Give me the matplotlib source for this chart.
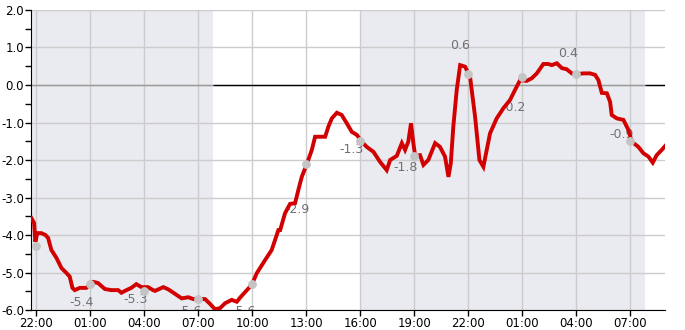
import matplotlib
matplotlib.use("Agg")
import matplotlib.pyplot as plt

# hours since 22:00 on the first evening
hours = [-0.26, -0.11, -0.04, 0.07, 0.29, 0.52, 0.67, 0.85, 1.13, 1.41, 1.68, 1.87,
         2.02, 2.15, 2.43, 2.79, 3.17, 3.44, 3.82, 4.18, 4.56, 4.74, 5.02, 5.29,
         5.57, 5.85, 6.22, 6.5, 6.61, 7.07, 7.35, 7.63, 8.09, 8.46, 8.74, 9.0,
         9.39, 9.67, 9.94, 10.22, 10.5, 10.87, 11.15, 11.37, 11.71, 11.98, 12.26,
         12.72, 13.09, 13.28, 13.46, 13.56, 13.83, 14.11, 14.39, 14.57, 14.76,
         15.04, 15.32, 15.5, 15.68, 16.06, 16.24, 16.43, 16.71, 16.98, 17.26,
         17.54, 17.82, 18.09, 18.37, 18.74, 19.11, 19.48, 19.67, 20.04, 20.32,
         20.5, 20.68, 20.83, 20.96, 21.06, 21.33, 21.52, 21.79, 22.17, 22.44,
         22.72, 22.91, 23.04, 23.18, 23.37, 23.56, 23.83, 24.11, 24.39, 24.63,
         24.85, 25.04, 25.22, 25.59, 25.96, 26.33, 26.61, 26.89, 27.26, 27.54,
         27.82, 28.18, 28.46, 28.65, 28.93, 29.21, 29.48, 29.76, 30.04, 30.41,
         30.78, 31.06, 31.24, 31.43, 31.71, 31.89, 31.98, 32.26, 32.63, 32.91,
         33.09, 33.46, 33.74, 34.02, 34.26, 34.48, 34.76, 34.94]
temps = [-3.55, -3.68, -4.18, -3.95, -3.95, -4.0, -4.08, -4.4, -4.61, -4.88, -5.01, -5.11,
         -5.41, -5.47, -5.41, -5.41, -5.25, -5.28, -5.44, -5.47, -5.47, -5.54, -5.47, -5.41,
         -5.31, -5.39, -5.39, -5.47, -5.49, -5.39, -5.45, -5.54, -5.69, -5.66, -5.71, -5.7,
         -5.71, -5.84, -5.98, -5.95, -5.82, -5.73, -5.78, -5.65, -5.47, -5.33, -5.02,
         -4.67, -4.4, -4.13, -3.87, -3.87, -3.42, -3.17, -3.15, -2.8, -2.45,
         -2.11, -1.73, -1.38, -1.38, -1.38, -1.11, -0.89, -0.74, -0.8, -1.02,
         -1.25, -1.33, -1.51, -1.65, -1.78, -2.05, -2.27, -2.0, -1.89, -1.55,
         -1.73, -1.51, -1.02, -1.55, -1.89, -1.87, -2.13, -2.0, -1.55, -1.65,
         -1.91, -2.45, -2.09, -1.11, -0.13, 0.53, 0.49, 0.22, -0.85, -2.0,
         -2.18, -1.73, -1.29, -0.89, -0.62, -0.4, -0.13, 0.13, 0.11, 0.18,
         0.31, 0.56, 0.56, 0.53, 0.58, 0.45, 0.42, 0.31, 0.29, 0.31,
         0.31, 0.27, 0.13, -0.21, -0.22, -0.45, -0.8, -0.89, -0.93, -1.2,
         -1.51, -1.65, -1.82, -1.91, -2.07, -1.87, -1.73, -1.63]

# grey 3-hourly markers and their printed values
mark_hours = [0, 3, 6, 9, 12, 15, 18, 21, 24, 27, 30, 33]
mark_temps = [-4.29, -5.31, -5.49, -5.71, -5.31, -2.11, -1.49, -1.89, 0.29, 0.21, 0.29, -1.49]
mark_text = ["", "-5.4", "-5.3", "-5.6", "-5.6", "-2.9", "-1.3", "-1.8", "0.6", "-0.2", "0.4", "-0.9"]
text_temps = [-4.6, -5.79, -5.71, -6.04, -6.04, -3.31, -1.71, -2.19, 1.04, -0.59, 0.83, -1.31]

tick_hours = [0, 3, 6, 9, 12, 15, 18, 21, 24, 27, 30, 33]
tick_labels = ["22:00", "01:00", "04:00", "07:00", "10:00", "13:00",
               "16:00", "19:00", "22:00", "01:00", "04:00", "07:00"]

# night shading (hours)
nights = [(-0.28, 9.83), (18.0, 33.83)]

X0, X1 = -0.28, 34.94

fig = plt.figure(figsize=(6.85, 3.3), dpi=100)
ax = fig.add_axes([0.0453, 0.0606, 0.9255, 0.9091])

for a, b in nights:
    ax.axvspan(a, b, color="#eaebf0", lw=0, zorder=0)

ax.set_xlim(X0, X1)
ax.set_ylim(-6, 2)
ax.set_yticks(range(-6, 3))
ax.set_yticks([v + 0.5 for v in range(-6, 2)], minor=True)
ax.set_yticklabels([f"{v:.1f}" for v in range(-6, 3)])
ax.set_xticks(tick_hours)
ax.set_xticklabels(tick_labels)
ax.grid(True, color="#cccccc", lw=1, zorder=1)
ax.set_axisbelow(True)
ax.tick_params(axis="both", which="both", length=4, width=1, pad=1,
               labelsize=8.5, color="black")

for s in ("top", "right"):
    ax.spines[s].set_visible(False)

# zero line: black in day, grey in night
edges = [X0] + [e for n in nights for e in n] + [X1]
for i in range(len(edges) - 1):
    a, b = edges[i], edges[i + 1]
    night = any(abs(a - n[0]) < 1e-9 for n in nights)
    ax.hlines(0, a, b, color="#999999" if night else "black", lw=1, zorder=2)

for h, t, s in zip(mark_hours, text_temps, mark_text):
    if s:
        ax.text(h - 0.45, t, s, ha="center", va="center", fontsize=9,
                color="#707070", zorder=3, clip_on=True)

ax.plot(hours, temps, color="#d20000", lw=2.8, zorder=4, solid_joinstyle="miter")
ax.scatter(mark_hours, mark_temps, s=40, color="#c4c4c4", zorder=5, lw=0)

fig.savefig("out.png", dpi=100)
